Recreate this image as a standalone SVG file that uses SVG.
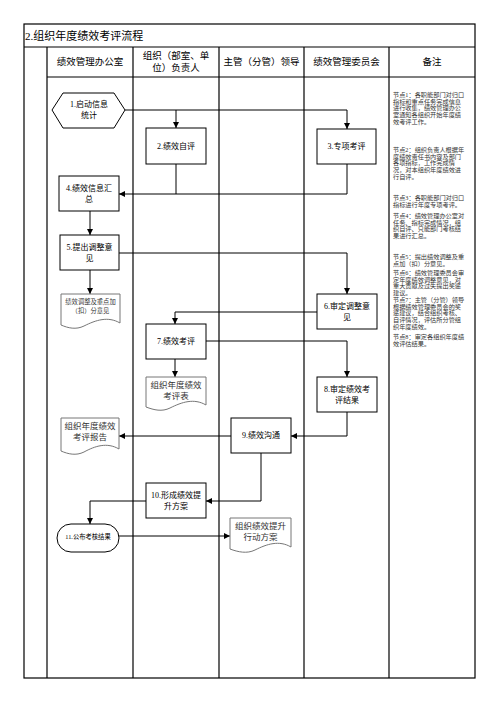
<svg xmlns="http://www.w3.org/2000/svg" width="496" height="702" viewBox="0 0 496 702">
<defs>
<marker id="arr" markerWidth="6" markerHeight="6" refX="6" refY="3" orient="auto" markerUnits="userSpaceOnUse">
<path d="M0,0 L6,3 L0,6 z" fill="#000"/>
</marker>
<style>
text{font-family:"Liberation Serif","Noto Sans CJK SC",serif;fill:#000}
.frame{fill:none;stroke:#000;stroke-width:1.2}
.hdr{font-size:9.5px;text-anchor:middle}
.box{fill:#fff;stroke:#000;stroke-width:1}
.doc{fill:#fff;stroke:#777;stroke-width:1}
.nt{font-size:8px;text-anchor:middle}
.dt{font-size:8.5px;text-anchor:middle;fill:#333}
.note{font-size:6.2px;fill:#333}
.con path{fill:none;stroke:#000;stroke-width:1}
.arw{marker-end:url(#arr)}
</style>
</defs>
<rect width="496" height="702" fill="#fff"/>
<g id="frame">
<rect class="frame" x="24" y="24" width="451" height="654"/>
<line class="frame" x1="24" y1="47" x2="475" y2="47"/>
<line class="frame" x1="47" y1="77" x2="475" y2="77"/>
<line class="frame" x1="47" y1="47" x2="47" y2="678"/>
<line class="frame" x1="133" y1="47" x2="133" y2="678"/>
<line class="frame" x1="219" y1="47" x2="219" y2="678"/>
<line class="frame" x1="304" y1="47" x2="304" y2="678"/>
<line class="frame" x1="389" y1="47" x2="389" y2="678"/>
<text x="25" y="40" style="font-size:11px">2.组织年度绩效考评流程</text>
<text class="hdr" x="90" y="65">绩效管理办公室</text>
<text class="hdr" y="59"><tspan x="176">组织（部室、单</tspan><tspan x="176" dy="12">位）负责人</tspan></text>
<text class="hdr" x="261.5" y="65">主管（分管）领导</text>
<text class="hdr" x="346.5" y="65">绩效管理委员会</text>
<text class="hdr" x="432" y="65">备注</text>
</g>
<g id="notes">
<text class="note" y="97"><tspan x="393">节点1：各职能部门对归口</tspan><tspan x="393" dy="6.7">指标和重点任务完成信息</tspan><tspan x="393" dy="6.7">进行收集，绩效管理办公</tspan><tspan x="393" dy="6.7">室通知各组织开始年度绩</tspan><tspan x="393" dy="6.7">效考评工作。</tspan></text>
<text class="note" y="152"><tspan x="393">节点2：组织负责人根据年</tspan><tspan x="393" dy="6.7">度绩效责任书内容及部门</tspan><tspan x="393" dy="6.7">各项指标，工作完成情</tspan><tspan x="393" dy="6.7">况，对本组织年度绩效进</tspan><tspan x="393" dy="6.7">行自评。</tspan></text>
<text class="note" y="200"><tspan x="393">节点3：各职能部门对归口</tspan><tspan x="393" dy="6.7">指标进行年度专项考评。</tspan></text>
<text class="note" y="218"><tspan x="393">节点4：绩效管理办公室对</tspan><tspan x="393" dy="6.7">任务、指标完成情况，组</tspan><tspan x="393" dy="6.7">织自评、只能部门考核结</tspan><tspan x="393" dy="6.7">果进行汇总。</tspan></text>
<text class="note" y="259"><tspan x="393">节点5：提出绩效调整及重</tspan><tspan x="393" dy="6.7">点加（扣）分意见。</tspan></text>
<text class="note" y="275"><tspan x="393">节点6：绩效管理委员会审</tspan><tspan x="393" dy="6.7">定年度绩效调整意见，对</tspan><tspan x="393" dy="6.7">重大贡献及过失提出奖惩</tspan><tspan x="393" dy="6.7">建议。</tspan></text>
<text class="note" y="302"><tspan x="393">节点7：主管（分管）领导</tspan><tspan x="393" dy="6.7">根据绩效管理委员会的奖</tspan><tspan x="393" dy="6.7">惩建议，结合组织考核、</tspan><tspan x="393" dy="6.7">自评情况，评估所分管组</tspan><tspan x="393" dy="6.7">织年度绩效。</tspan></text>
<text class="note" y="339"><tspan x="393">节点8：审定各组织年度绩</tspan><tspan x="393" dy="6.7">效评估结果。</tspan></text>
</g>
<g class="con" id="connectors">
<path class="arw" d="M125,110 H347 V129"/>
<path class="arw" d="M176,110 V128"/>
<path d="M176,164 V194"/>
<path class="arw" d="M347,164 V194 H119"/>
<path class="arw" d="M90,211 V235"/>
<path class="arw" d="M119,253 H347 V294"/>
<path class="arw" d="M90,270 V294"/>
<path class="arw" d="M317,312 H175 V324"/>
<path class="arw" d="M206,341 H347 V377"/>
<path class="arw" d="M175,359 V377"/>
<path class="arw" d="M347,412 V436 H291"/>
<path class="arw" d="M231,436 H119"/>
<path class="arw" d="M261,453 V501 H206"/>
<path class="arw" d="M146,501 H90 V524"/>
<path class="arw" d="M119,536 H230"/>
</g>
<g id="n1">
<polygon class="box" points="52,110 63,93 114,93 125,110 114,128 63,128"/>
<text class="nt" y="107"><tspan x="89">1.启动信息</tspan><tspan x="89" dy="11">统计</tspan></text>
</g>
<g id="n2">
<rect class="box" x="146" y="128" width="60" height="36"/>
<text class="nt" x="176" y="149">2.绩效自评</text>
</g>
<g id="n3">
<rect class="box" x="317" y="129" width="59" height="35"/>
<text class="nt" x="346.5" y="149">3.专项考评</text>
</g>
<g id="n4">
<rect class="box" x="59" y="176" width="60" height="35"/>
<text class="nt" y="191"><tspan x="89">4.绩效信息汇</tspan><tspan x="89" dy="11">总</tspan></text>
</g>
<g id="n5">
<rect class="box" x="60" y="235" width="59" height="35"/>
<text class="nt" y="250"><tspan x="89.5">5.提出调整意</tspan><tspan x="89.5" dy="11">见</tspan></text>
</g>
<g id="d5">
<path class="doc" d="M61,294 H120 V323 C108,316 96,320 84,326 C76,330 68,328 61,325 Z"/>
<text y="304" style="font-size:6.3px;text-anchor:middle;fill:#333"><tspan x="90.5">绩效调整及重点加</tspan><tspan x="90.5" dy="9">（扣）分意见</tspan></text>
</g>
<g id="n6">
<rect class="box" x="317" y="294" width="60" height="35"/>
<text class="nt" y="309"><tspan x="347">6.审定调整意</tspan><tspan x="347" dy="11">见</tspan></text>
</g>
<g id="n7">
<rect class="box" x="146" y="324" width="60" height="35"/>
<text class="nt" x="176" y="344">7.绩效考评</text>
</g>
<g id="d7">
<path class="doc" d="M146,377 H206 V405 C194,398 182,402 170,408 C162,412 154,410 146,407 Z"/>
<text class="dt" y="388"><tspan x="176">组织年度绩效</tspan><tspan x="176" dy="11">考评表</tspan></text>
</g>
<g id="n8">
<rect class="box" x="317" y="377" width="60" height="35"/>
<text class="nt" y="392"><tspan x="347">8.审定绩效考</tspan><tspan x="347" dy="11">评结果</tspan></text>
</g>
<g id="d9">
<path class="doc" d="M61,418 H119 V449 C107,442 95,446 84,452 C76,456 68,454 61,451 Z"/>
<text class="dt" y="429"><tspan x="90">组织年度绩效</tspan><tspan x="90" dy="11">考评报告</tspan></text>
</g>
<g id="n9">
<rect class="box" x="231" y="418" width="60" height="35"/>
<text class="nt" x="261" y="438">9.绩效沟通</text>
</g>
<g id="n10">
<rect class="box" x="146" y="483" width="60" height="35"/>
<text class="nt" y="498"><tspan x="176">10.形成绩效提</tspan><tspan x="176" dy="11">升方案</tspan></text>
</g>
<g id="n11">
<rect class="box" x="57" y="524" width="62" height="28" rx="14" ry="14"/>
<text x="88" y="538.5" style="font-size:6.3px;text-anchor:middle">11.公布考核结果</text>
</g>
<g id="d11">
<path class="doc" d="M230,518 H291 V547 C279,540 267,544 255,550 C247,554 238,552 230,549 Z"/>
<text class="dt" y="529"><tspan x="260.5">组织绩效提升</tspan><tspan x="260.5" dy="11">行动方案</tspan></text>
</g>
</svg>
